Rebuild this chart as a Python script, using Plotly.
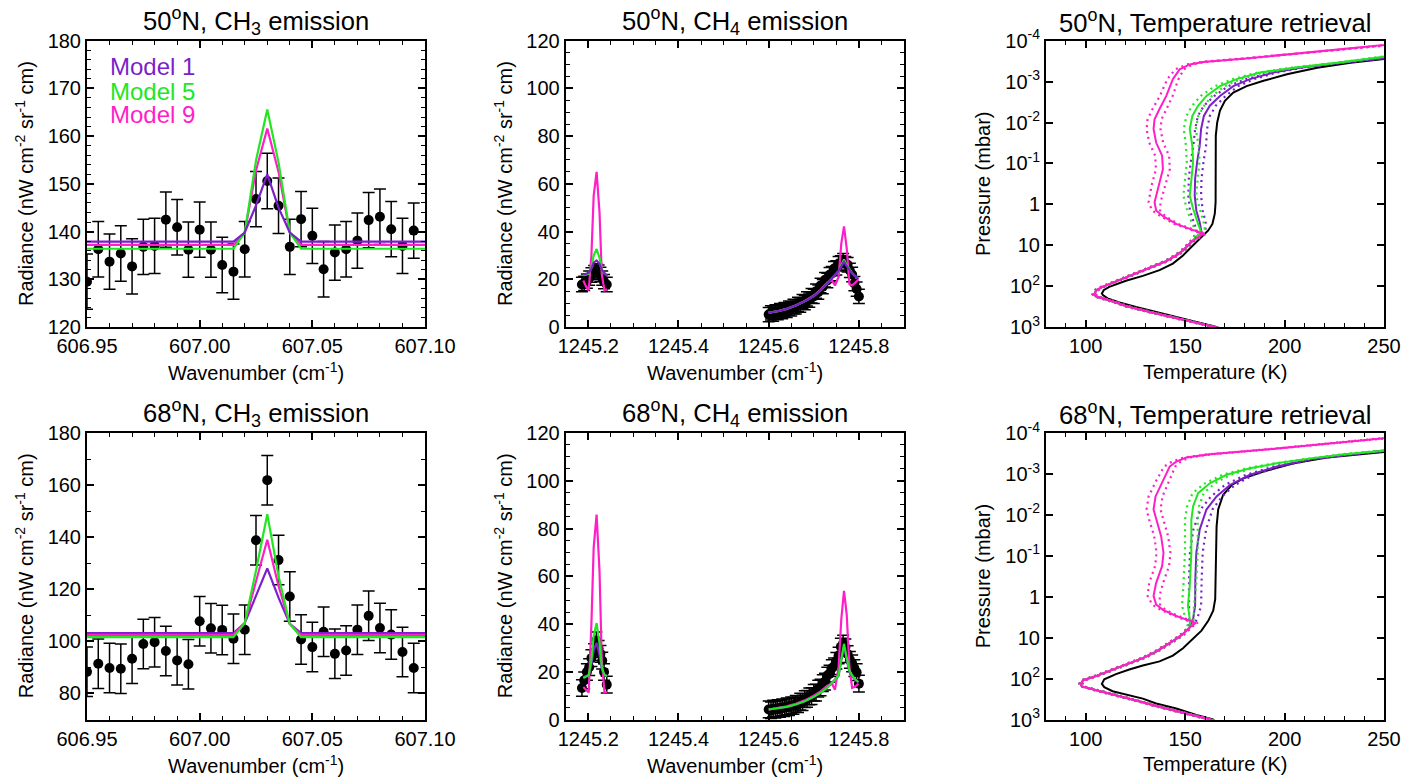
import plotly.graph_objects as go

W, H = 1418, 777
FONT = "Liberation Sans, Arial, Helvetica, sans-serif"
PURPLE = "#7A1FC9"
GREEN = "#22E622"
MAGENTA = "#FF1EC8"

# ---------------- CH3 emission (left column) ----------------
CH3_WN = [606.950, 606.955, 606.960, 606.965, 606.970, 606.975, 606.980, 606.985, 606.990, 606.995,
          607.000, 607.005, 607.010, 607.015, 607.020, 607.025, 607.030, 607.035, 607.040, 607.045,
          607.050, 607.055, 607.060, 607.065, 607.070, 607.075, 607.080, 607.085, 607.090, 607.095]
CH3_50 = [129.5, 136.3, 133.7, 135.4, 132.7, 136.8, 137.0, 142.5, 140.9, 136.2,
          140.4, 136.2, 133.0, 131.6, 136.3, 146.8, 150.6, 145.4, 136.8, 142.6,
          139.1, 132.1, 135.6, 136.3, 138.1, 142.4, 143.1, 140.5, 137.0, 140.2]
CH3_68 = [88.3, 91.4, 89.8, 89.5, 93.3, 99.0, 99.7, 96.3, 92.7, 91.2,
          107.7, 105.0, 104.4, 101.0, 104.5, 138.8, 161.9, 131.2, 117.2, 100.7,
          97.8, 103.7, 95.2, 96.5, 104.5, 109.8, 105.1, 102.6, 95.9, 89.8]
CH3_ERR_50 = 5.8
CH3_ERR_68 = 9.5

CH3_MOD_WN = [606.950, 606.955, 606.960, 606.965, 606.970, 606.975, 606.980, 606.985, 606.990, 606.995,
              607.000, 607.005, 607.010, 607.015, 607.020, 607.025, 607.030, 607.035, 607.040, 607.045,
              607.050, 607.055, 607.060, 607.065, 607.070, 607.075, 607.080, 607.085, 607.090, 607.095, 607.100]
CH3_M1_50 = [137.9, 137.9, 137.9, 137.9, 137.9, 137.9, 137.9, 137.9, 137.9, 137.9,
             137.9, 137.9, 137.9, 137.9, 139.8, 145.5, 152.0, 145.0, 139.8, 137.9,
             137.9, 137.9, 137.9, 137.9, 137.9, 137.9, 137.9, 137.9, 137.9, 137.9, 137.9]
CH3_M5_50 = [136.4, 136.4, 136.4, 136.4, 136.4, 136.4, 136.4, 136.4, 136.4, 136.4,
             136.4, 136.4, 136.4, 136.4, 139.8, 154.9, 165.6, 154.5, 139.8, 136.4,
             136.4, 136.4, 136.4, 136.4, 136.4, 136.4, 136.4, 136.4, 136.4, 136.4, 136.4]
CH3_M9_50 = [137.2, 137.2, 137.2, 137.2, 137.2, 137.2, 137.2, 137.2, 137.2, 137.2,
             137.2, 137.2, 137.2, 137.2, 139.8, 152.8, 161.6, 152.5, 139.8, 137.2,
             137.2, 137.2, 137.2, 137.2, 137.2, 137.2, 137.2, 137.2, 137.2, 137.2, 137.2]
CH3_M1_68 = [103.2, 103.2, 103.2, 103.2, 103.2, 103.2, 103.2, 103.2, 103.2, 103.2,
             103.2, 103.2, 103.2, 103.2, 107.0, 117.5, 128.0, 116.8, 106.7, 103.2,
             103.2, 103.2, 103.2, 103.2, 103.2, 103.2, 103.2, 103.2, 103.2, 103.2, 103.2]
CH3_M5_68 = [101.6, 101.6, 101.6, 101.6, 101.6, 101.6, 101.6, 101.6, 101.6, 101.6,
             101.6, 101.6, 101.6, 101.6, 107.0, 127.2, 148.8, 125.1, 106.7, 101.6,
             101.6, 101.6, 101.6, 101.6, 101.6, 101.6, 101.6, 101.6, 101.6, 101.6, 101.6]
CH3_M9_68 = [102.5, 102.5, 102.5, 102.5, 102.5, 102.5, 102.5, 102.5, 102.5, 102.5,
             102.5, 102.5, 102.5, 102.5, 107.0, 123.0, 139.0, 121.3, 106.7, 102.5,
             102.5, 102.5, 102.5, 102.5, 102.5, 102.5, 102.5, 102.5, 102.5, 102.5, 102.5]

# ---------------- CH4 emission (middle column) ----------------
CH4_WN_A = [1245.186, 1245.191, 1245.197, 1245.202, 1245.207, 1245.213,
            1245.218, 1245.223, 1245.227, 1245.231, 1245.235, 1245.241]
CH4_50_A = [17.8, 18.3, 19.2, 20.5, 21.8, 22.8, 23.5, 23.0, 22.0, 20.5, 19.0, 17.8]
CH4_68_A = [13.2, 16.4, 19.9, 21.9, 25.7, 28.2, 33.1, 29.6, 27.5, 24.7, 19.9, 14.6]
CH4_WN_B = [1245.600, 1245.605, 1245.610, 1245.615, 1245.620, 1245.625, 1245.630, 1245.635,
            1245.640, 1245.645, 1245.650, 1245.655, 1245.660, 1245.665, 1245.670, 1245.675,
            1245.680, 1245.685, 1245.690, 1245.695, 1245.700, 1245.705, 1245.710, 1245.715,
            1245.720, 1245.725, 1245.730, 1245.735, 1245.740, 1245.745, 1245.750, 1245.755,
            1245.760, 1245.765, 1245.770, 1245.775, 1245.780, 1245.785, 1245.790, 1245.795, 1245.800]
CH4_50_B = [5.2, 5.9, 5.4, 6.3, 6.0, 6.8, 6.5, 7.3, 7.0, 7.9, 7.6, 8.6, 8.4, 9.5, 9.2, 10.6,
            10.2, 11.8, 11.3, 13.1, 12.8, 15.0, 14.6, 17.4, 16.9, 19.8, 19.5, 21.9, 22.4, 24.5,
            24.8, 26.6, 26.9, 27.8, 26.6, 26.1, 23.7, 22.0, 18.2, 15.9, 12.8]
CH4_68_B = [4.2, 3.8, 4.6, 4.1, 4.8, 4.4, 5.1, 4.8, 5.5, 5.2, 5.9, 5.7, 6.6, 6.4, 7.5, 7.3,
            8.5, 8.6, 9.7, 9.8, 11.2, 11.3, 12.9, 13.4, 15.2, 15.9, 18.4, 19.2, 21.5, 22.3,
            24.6, 26.8, 30.5, 31.8, 30.2, 27.4, 25.0, 23.5, 21.5, 19.8, 15.0]
CH4_ERR_50 = 3.0
CH4_ERR_68 = 3.5

CH4_MOD_WN_A = [1245.189, 1245.195, 1245.201, 1245.207, 1245.212, 1245.2185,
                1245.225, 1245.230, 1245.236, 1245.242]
CH4_M1_50_A = [21.9, 22.3, 22.7, 24.5, 27.0, 27.9, 26.5, 24.0, 22.5, 21.3]
CH4_M5_50_A = [21.6, 22.0, 22.3, 25.0, 30.0, 32.7, 29.0, 24.0, 22.3, 21.5]
CH4_M9_50_A = [19.5, 17.0, 15.3, 30.0, 55.0, 65.0, 48.0, 22.0, 15.3, 15.8]
CH4_M1_68_A = [17.6, 18.1, 18.7, 23.0, 29.0, 32.1, 27.0, 21.0, 18.7, 18.4]
CH4_M5_68_A = [17.4, 17.9, 18.5, 25.0, 35.0, 40.4, 32.0, 22.0, 18.5, 18.2]
CH4_M9_68_A = [13.6, 12.2, 11.3, 40.0, 72.0, 85.8, 62.0, 25.0, 11.3, 11.5]

CH4_MOD_WN_B = [1245.600, 1245.620, 1245.640, 1245.660, 1245.680, 1245.700, 1245.715, 1245.730,
                1245.740, 1245.747, 1245.755, 1245.761, 1245.767, 1245.773, 1245.779, 1245.785,
                1245.792, 1245.799]
CH4_M1_50_B = [6.0, 6.6, 7.6, 9.0, 10.8, 13.0, 15.3, 18.2, 20.3, 21.8, 23.5, 25.5, 27.3, 25.5, 23.8, 22.5, 21.2, 20.0]
CH4_M5_50_B = [6.0, 6.6, 7.6, 9.0, 10.8, 13.0, 15.3, 18.2, 20.3, 21.8, 23.5, 26.0, 28.3, 26.0, 24.0, 22.6, 21.3, 20.2]
CH4_M9_50_B = [6.0, 6.6, 7.6, 9.0, 10.9, 13.2, 15.6, 18.6, 19.5, 17.4, 21.0, 35.0, 42.2, 33.0, 18.0, 17.4, 18.6, 19.9]
CH4_M1_68_B = [4.2, 4.6, 5.3, 6.3, 7.6, 9.5, 11.2, 13.4, 15.2, 16.6, 18.3, 25.0, 30.5, 25.0, 20.0, 18.2, 16.6, 15.5]
CH4_M5_68_B = [4.2, 4.6, 5.3, 6.3, 7.6, 9.5, 11.2, 13.4, 15.2, 16.6, 18.5, 26.0, 31.7, 26.0, 20.5, 18.5, 16.8, 15.7]
CH4_M9_68_B = [4.2, 4.7, 5.5, 6.6, 8.0, 10.0, 11.8, 14.2, 15.0, 12.5, 22.0, 42.0, 53.9, 44.0, 22.0, 13.2, 13.8, 15.0]

# ---------------- Temperature retrievals (right column), log10(p/mbar) ----------------
APRIORI_LP_50 = [3.0, 2.87, 2.75, 2.63, 2.51, 2.40, 2.30, 2.22, 2.18, 2.10, 2.02, 1.87, 1.75, 1.61,
                 1.45, 1.25, 1.0, 0.80, 0.64, 0.48, 0.23, -0.05, -0.62, -1.19, -1.68, -2.0, -2.29,
                 -2.53, -2.73, -2.89, -3.02, -3.18, -3.34, -3.46, -3.56, -3.62]
APRIORI_T_50 = [165.8, 155.6, 145.5, 135.4, 125.3, 116.9, 111.0, 108.6, 108.1, 109.0, 111.8, 120.2,
                128.7, 137.1, 143.8, 148.9, 154.0, 158.2, 161.6, 163.7, 164.9, 165.3, 165.3, 165.3,
                165.4, 166.1, 167.5, 170.0, 174.2, 180.9, 189.4, 201.2, 216.4, 233.2, 250.0, 262.0]
LOW_LP_50 = [3.01, 2.90, 2.79, 2.67, 2.59, 2.49, 2.40, 2.31, 2.25, 2.20, 2.10, 2.02, 1.88, 1.75,
             1.62, 1.49, 1.39, 1.25, 1.13, 0.92]
LOW_T_50 = [165.8, 155.6, 145.5, 135.4, 128.7, 120.2, 115.2, 109.3, 105.1, 104.2, 105.4, 108.4,
            115.2, 121.9, 128.7, 135.4, 140.5, 145.5, 148.9, 153.1]
LOW_ERR = [0.8, 0.8, 0.8, 0.8, 0.8, 0.8, 0.8, 0.8, 0.8, 0.8, 0.8, 0.8, 0.8, 0.8, 0.8, 0.8, 0.8, 0.8, 0.8, 0.8]

M1_LP_50 = [0.76, 0.68, 0.44, 0.15, -0.21, -0.62, -1.03, -1.43, -1.84, -2.16, -2.41, -2.65, -2.89,
            -3.06, -3.22, -3.34, -3.46, -3.57, -3.63]
M1_T_50 = [156.5, 158.2, 157.3, 155.6, 154.8, 155.0, 156.0, 157.3, 158.0, 159.4, 162.4, 167.5, 174.2,
           182.6, 194.4, 207.9, 228.2, 250.0, 262.0]
M1_ERR_50 = [1.5, 2.0, 3.0, 3.2, 3.2, 3.2, 3.2, 3.2, 3.0, 3.0, 3.0, 2.8, 2.5, 2.0, 1.5, 1.2, 1.0, 1.0, 1.0]
M5_LP_50 = [0.76, 0.68, 0.48, 0.11, -0.21, -0.62, -1.03, -1.43, -1.84, -2.16, -2.41, -2.65, -2.89,
            -3.06, -3.22, -3.34, -3.46, -3.61, -3.66]
M5_T_50 = [156.5, 158.0, 156.5, 154.0, 152.3, 153.1, 154.0, 153.6, 152.3, 153.6, 156.5, 160.7, 167.5,
           175.9, 187.7, 204.6, 226.5, 250.0, 262.0]
M5_ERR_50 = [1.5, 2.0, 3.0, 3.2, 3.2, 3.2, 3.2, 3.2, 3.0, 3.0, 3.0, 2.8, 2.5, 2.0, 1.5, 1.2, 1.0, 1.0, 1.0]
M9_LP_50 = [0.77, 0.72, 0.60, 0.48, 0.29, 0.15, -0.05, -0.46, -0.86, -1.19, -1.51, -1.84, -2.08,
            -2.33, -2.65, -3.06, -3.30, -3.42, -3.48, -3.56, -3.71, -3.87, -3.95]
M9_T_50 = [158.2, 159.4, 152.3, 145.5, 138.8, 135.4, 134.6, 136.6, 138.8, 138.4, 135.4, 134.1, 134.6,
           137.1, 140.5, 143.8, 147.2, 152.3, 159.0, 179.3, 213.0, 250.0, 262.0]
M9_ERR_50 = [1.0, 1.0, 1.0, 1.0, 1.2, 2.0, 3.0, 3.5, 3.5, 3.5, 3.5, 3.5, 3.5, 3.5, 3.2, 2.8, 2.2,
             1.5, 1.0, 1.0, 1.0, 1.0, 1.0]

APRIORI_LP_68 = [3.0, 2.89, 2.73, 2.61, 2.49, 2.39, 2.31, 2.21, 2.13, 2.02, 1.89, 1.78, 1.68, 1.58,
                 1.44, 1.26, 1.03, 0.83, 0.59, 0.34, 0.06, -0.43, -1.07, -1.72, -2.13, -2.49, -2.73,
                 -2.89, -3.06, -3.26, -3.40, -3.54, -3.59]
APRIORI_T_68 = [164.1, 155.6, 145.5, 135.4, 128.7, 120.2, 113.5, 109.3, 108.1, 109.3, 115.2, 121.9,
                128.7, 137.1, 143.8, 148.9, 154.0, 158.2, 161.6, 164.1, 165.1, 165.3, 165.4, 165.8,
                166.6, 169.1, 173.4, 179.3, 189.4, 204.6, 221.4, 250.0, 262.0]
LOW_LP_68 = [3.02, 2.92, 2.79, 2.67, 2.58, 2.47, 2.35, 2.25, 2.19, 2.13, 2.04, 1.94, 1.76, 1.64,
             1.50, 1.34, 1.19, 1.03, 0.91, 0.75]
LOW_T_68 = [164.1, 155.6, 145.5, 135.4, 128.7, 120.2, 111.8, 103.4, 98.0, 97.5, 98.7, 105.1, 115.2,
            121.9, 128.7, 135.4, 140.5, 145.5, 148.9, 152.3]
M1_LP_68 = [0.55, 0.22, -0.43, -1.07, -1.64, -2.13, -2.45, -2.73, -2.98, -3.18, -3.36, -3.46, -3.57, -3.62]
M1_T_68 = [154.0, 155.0, 155.1, 155.6, 157.3, 160.7, 165.8, 172.5, 182.6, 196.1, 213.0, 229.8, 250.0, 262.0]
M1_ERR_68 = [2.0, 3.0, 3.2, 3.2, 3.2, 3.0, 2.8, 2.5, 2.0, 1.5, 1.2, 1.0, 1.0, 1.0]
M5_LP_68 = [0.55, 0.22, -0.26, -1.07, -1.88, -2.21, -2.53, -2.77, -2.98, -3.14, -3.26, -3.38, -3.48, -3.57, -3.62]
M5_T_68 = [152.3, 151.4, 152.3, 153.1, 153.1, 154.0, 156.5, 162.4, 170.8, 182.6, 196.1, 213.0, 229.8, 250.0, 262.0]
M5_ERR_68 = [2.0, 3.0, 3.2, 3.2, 3.2, 3.0, 2.8, 2.5, 2.0, 1.5, 1.2, 1.0, 1.0, 1.0, 1.0]
M9_LP_68 = [0.64, 0.47, 0.32, 0.19, -0.02, -0.34, -0.75, -1.07, -1.48, -1.88, -2.13, -2.45, -2.85,
            -3.18, -3.30, -3.40, -3.48, -3.62, -3.87, -3.93]
M9_T_68 = [155.3, 145.5, 138.8, 135.4, 134.1, 135.4, 138.4, 139.1, 137.9, 135.4, 134.1, 135.1, 138.8,
           142.2, 145.5, 150.6, 162.4, 196.1, 250.0, 262.0]
M9_ERR_68 = [1.0, 1.0, 1.2, 2.0, 3.0, 3.5, 3.5, 3.5, 3.5, 3.5, 3.5, 3.5, 3.2, 2.8, 2.2, 1.5, 1.0, 1.0, 1.0, 1.0]

# tick labels
CH3_XTICKS = [606.95, 607.00, 607.05, 607.10]
CH3_XTEXT = ["606.95", "607.00", "607.05", "607.10"]
P_TICKS = [1e-4, 1e-3, 1e-2, 1e-1, 1, 10, 100, 1000]
P_TEXT = ["10<sup>-4</sup>", "10<sup>-3</sup>", "10<sup>-2</sup>", "10<sup>-1</sup>",
          "1", "10", "10<sup>2</sup>", "10<sup>3</sup>"]
TITLES = ["50<sup>o</sup>N, CH<sub>3</sub> emission", "50<sup>o</sup>N, CH<sub>4</sub> emission",
          "50<sup>o</sup>N, Temperature retrieval",
          "68<sup>o</sup>N, CH<sub>3</sub> emission", "68<sup>o</sup>N, CH<sub>4</sub> emission",
          "68<sup>o</sup>N, Temperature retrieval"]
LEGEND_NAMES = ["Model 1", "Model 5", "Model 9"]

# ---------------- layout geometry (pixels) ----------------
COLS = [(87, 425), (565.7, 904), (1046, 1384)]
ROWS = [(40.7, 327), (433, 719.5)]


def xd(c):
    return [COLS[c][0] / W, COLS[c][1] / W]


def yd(r):
    return [1 - ROWS[r][1] / H, 1 - ROWS[r][0] / H]


fig = go.Figure()


def ax(i):
    return ("x" if i == 1 else "x%d" % i), ("y" if i == 1 else "y%d" % i)


def data_points(i, x, y, err):
    xa, ya = ax(i)
    fig.add_trace(go.Scatter(x=x, y=y, mode="markers", xaxis=xa, yaxis=ya, showlegend=False,
                             marker=dict(color="black", size=10),
                             error_y=dict(type="constant", value=err, color="black",
                                          thickness=1.5, width=6)))


def line(i, x, y, color, width=2.2, dash=None):
    xa, ya = ax(i)
    fig.add_trace(go.Scatter(x=x, y=y, mode="lines", xaxis=xa, yaxis=ya, showlegend=False,
                             line=dict(color=color, width=width, dash=dash)))


# CH3 panels
data_points(1, CH3_WN, CH3_50, CH3_ERR_50)
line(1, CH3_MOD_WN, CH3_M9_50, MAGENTA)
line(1, CH3_MOD_WN, CH3_M5_50, GREEN)
line(1, CH3_MOD_WN, CH3_M1_50, PURPLE)
data_points(4, CH3_WN, CH3_68, CH3_ERR_68)
line(4, CH3_MOD_WN, CH3_M1_68, PURPLE)
line(4, CH3_MOD_WN, CH3_M9_68, MAGENTA)
line(4, CH3_MOD_WN, CH3_M5_68, GREEN)

# CH4 panels
data_points(2, CH4_WN_A + CH4_WN_B, CH4_50_A + CH4_50_B, CH4_ERR_50)
mx = CH4_MOD_WN_A + [None] + CH4_MOD_WN_B
line(2, mx, CH4_M9_50_A + [None] + CH4_M9_50_B, MAGENTA)
line(2, mx, CH4_M5_50_A + [None] + CH4_M5_50_B, GREEN)
line(2, mx, CH4_M1_50_A + [None] + CH4_M1_50_B, PURPLE)
data_points(5, CH4_WN_A + CH4_WN_B, CH4_68_A + CH4_68_B, CH4_ERR_68)
line(5, mx, CH4_M9_68_A + [None] + CH4_M9_68_B, MAGENTA)
line(5, mx, CH4_M1_68_A + [None] + CH4_M1_68_B, PURPLE)
line(5, mx, CH4_M5_68_A + [None] + CH4_M5_68_B, GREEN)


# temperature panels
def profile(i, lp, t, err, color):
    p = [10 ** v for v in lp]
    lo = [a - b for a, b in zip(t, err)]
    hi = [a + b for a, b in zip(t, err)]
    line(i, lo, p, color, width=2.2, dash="2px,4px")
    line(i, hi, p, color, width=2.2, dash="2px,4px")
    line(i, t, p, color, width=2)


line(3, APRIORI_T_50, [10 ** v for v in APRIORI_LP_50], "black", width=2)
profile(3, LOW_LP_50 + M1_LP_50, LOW_T_50 + M1_T_50, LOW_ERR + M1_ERR_50, PURPLE)
profile(3, LOW_LP_50 + M5_LP_50, LOW_T_50 + M5_T_50, LOW_ERR + M5_ERR_50, GREEN)
profile(3, LOW_LP_50 + M9_LP_50, LOW_T_50 + M9_T_50, LOW_ERR + M9_ERR_50, MAGENTA)

line(6, APRIORI_T_68, [10 ** v for v in APRIORI_LP_68], "black", width=2)
profile(6, LOW_LP_68 + M1_LP_68, LOW_T_68 + M1_T_68, LOW_ERR + M1_ERR_68, PURPLE)
profile(6, LOW_LP_68 + M5_LP_68, LOW_T_68 + M5_T_68, LOW_ERR + M5_ERR_68, GREEN)
profile(6, LOW_LP_68 + M9_LP_68, LOW_T_68 + M9_T_68, LOW_ERR + M9_ERR_68, MAGENTA)

# ---------------- axes ----------------
TICKFONT = dict(family=FONT, size=20, color="black")


def base_axis(**kw):
    d = dict(showline=True, linecolor="black", linewidth=2, mirror="ticks", ticks="inside",
             ticklen=7, tickwidth=1.5, tickcolor="black", showgrid=False, zeroline=False,
             tickfont=TICKFONT, fixedrange=True, automargin=False)
    d.update(kw)
    return d


def minor(dt):
    return dict(ticks="inside", ticklen=4, tickwidth=1.2, tickcolor="black", dtick=dt, showgrid=False)


layout = dict(width=W, height=H, margin=dict(l=0, r=0, t=0, b=0, pad=0), autosize=False,
              paper_bgcolor="white", plot_bgcolor="white", showlegend=False,
              font=dict(family=FONT, color="black"))

for r in range(2):
    for c in range(3):
        i = r * 3 + c + 1
        xk = "xaxis" if i == 1 else "xaxis%d" % i
        yk = "yaxis" if i == 1 else "yaxis%d" % i
        xa, ya = ax(i)
        if c == 0:
            layout[xk] = base_axis(domain=xd(c), anchor=ya, range=[606.95, 607.10],
                                   tickvals=CH3_XTICKS, ticktext=CH3_XTEXT, minor=minor(0.01))
            if r == 0:
                layout[yk] = base_axis(domain=yd(r), anchor=xa, range=[120, 180], dtick=10,
                                       tick0=120, minor=minor(2))
            else:
                layout[yk] = base_axis(domain=yd(r), anchor=xa, range=[70, 180], dtick=20,
                                       tick0=80, minor=minor(10))
        elif c == 1:
            layout[xk] = base_axis(domain=xd(c), anchor=ya, range=[1245.15, 1245.90],
                                   tick0=1245.2, dtick=0.2, tickformat=".1f", minor=minor(0.05))
            layout[yk] = base_axis(domain=yd(r), anchor=xa, range=[0, 120], dtick=20,
                                   tick0=0, minor=minor(5))
        else:
            layout[xk] = base_axis(domain=xd(c), anchor=ya, range=[80, 250], tick0=100,
                                   dtick=50, minor=minor(10))
            layout[yk] = base_axis(domain=yd(r), anchor=xa, type="log", range=[3, -4],
                                   tickvals=P_TICKS, ticktext=P_TEXT)

fig.update_layout(**layout)

# ---------------- annotations ----------------
ann = []
col_centres = [256, 734.9, 1215]
ytitle_x = [24, 503, 983]
ytitles = ["Radiance (nW cm<sup>-2</sup> sr<sup>-1</sup> cm)",
           "Radiance (nW cm<sup>-2</sup> sr<sup>-1</sup> cm)", "Pressure (mbar)"]
xtitles = ["Wavenumber (cm<sup>-1</sup>)", "Wavenumber (cm<sup>-1</sup>)", "Temperature (K)"]
for r in range(2):
    off = 392.3 * r
    for c in range(3):
        ann.append(dict(text=TITLES[r * 3 + c], x=col_centres[c] / W, y=1 - (21 + off) / H,
                        xref="paper", yref="paper", showarrow=False, xanchor="center",
                        yanchor="middle", font=dict(family=FONT, size=25.6, color="black")))
        ann.append(dict(text=xtitles[c], x=col_centres[c] / W, y=1 - (372 + off) / H,
                        xref="paper", yref="paper", showarrow=False, xanchor="center",
                        yanchor="middle", font=dict(family=FONT, size=20, color="black")))
        ann.append(dict(text=ytitles[c], x=ytitle_x[c] / W, y=1 - (184 + off) / H,
                        xref="paper", yref="paper", showarrow=False, xanchor="center",
                        yanchor="middle", textangle=-90,
                        font=dict(family=FONT, size=20, color="black")))

for k, (name, col) in enumerate(zip(LEGEND_NAMES, [PURPLE, GREEN, MAGENTA])):
    ann.append(dict(text=name, x=108 / W, y=1 - (67 + 24 * k) / H, xref="paper", yref="paper",
                    showarrow=False, xanchor="left", yanchor="middle",
                    font=dict(family=FONT, size=24, color=col)))

fig.update_layout(annotations=ann)
fig.write_html("out.html")
